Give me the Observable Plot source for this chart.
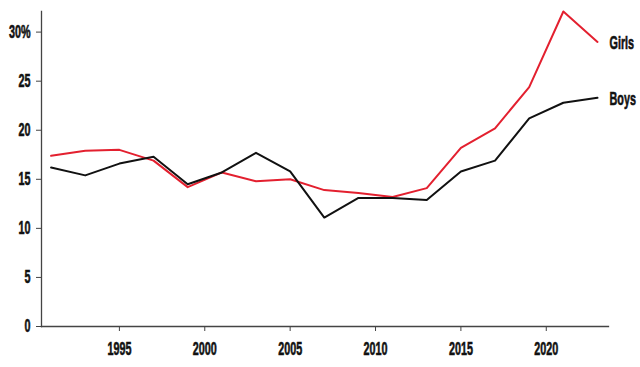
<!DOCTYPE html>
<html>
<head>
<meta charset="utf-8">
<script src="https://cdn.jsdelivr.net/npm/d3@7"></script>
<script src="https://cdn.jsdelivr.net/npm/@observablehq/plot@0.6"></script>
<style>
  html, body { margin: 0; padding: 0; background: #fff; }
</style>
</head>
<body>
<div id="chart"></div>
<script>
const years = [1991, 1993, 1995, 1997, 1999, 2001, 2003, 2005, 2007, 2009, 2011, 2013, 2015, 2017, 2019, 2021, 2023];
const girls = [17.4, 17.9, 18.0, 16.9, 14.2, 15.7, 14.8, 15.0, 13.9, 13.6, 13.2, 14.1, 18.2, 20.2, 24.4, 32.1, 29.0];
const boys  = [16.2, 15.4, 16.6, 17.3, 14.5, 15.7, 17.7, 15.8, 11.1, 13.1, 13.1, 12.9, 15.8, 16.9, 21.2, 22.8, 23.3];
const seriesNames = ["Girls", "Boys"];
const seriesColors = ["#e3202f", "#111111"];
const xTicks = [1995, 2000, 2005, 2010, 2015, 2020];
const yTicks = [0, 5, 10, 15, 20, 25, 30];

const rows = [];
years.forEach((yr, i) => {
  rows.push({year: yr, value: girls[i], series: "Girls"});
  rows.push({year: yr, value: boys[i], series: "Boys"});
});
const lastRows = seriesNames.map(s => rows.filter(r => r.series === s).at(-1));

const chart = Plot.plot({
  width: 640,
  height: 367,
  marginTop: 11,
  marginLeft: 41,
  marginRight: 32,
  marginBottom: 41,
  style: {fontFamily: "'Liberation Sans', Arial, sans-serif", fontSize: "18px", fontWeight: "bold", color: "#111", overflow: "visible"},
  x: {domain: [1991, 2023], insetLeft: 9.6, insetRight: 11, label: null},
  y: {domain: [0, 32.1], label: null},
  color: {domain: seriesNames, range: seriesColors},
  marks: [
    Plot.axisX({ticks: xTicks, tickFormat: d => String(d), tickSize: 5, tickPadding: 11, stroke: "#444", label: null, fontSize: 18}),
    Plot.axisY({ticks: yTicks, tickFormat: d => d === 30 ? "30%" : String(d), tickSize: 5, tickPadding: 6, stroke: "#444", label: null, fontSize: 18}),
    Plot.frame({anchor: "left", stroke: "#444", strokeWidth: 1.3}),
    Plot.frame({anchor: "bottom", stroke: "#444", strokeWidth: 1.3}),
    Plot.line(rows, {x: "year", y: "value", z: "series", stroke: "series", strokeWidth: 2}),
    Plot.text(lastRows, {x: "year", y: "value", text: "series", textAnchor: "start", dx: 12, dy: 1, fill: "#111", fontSize: 18})
  ]
});
// condense the type horizontally around each text's anchor point
const sx = 0.6;
chart.querySelectorAll("text").forEach(t => {
  t.setAttribute("font-size", "18");
  t.style.fontSize = "18px";
  t.style.fill = "#111";
  t.style.stroke = "#111";
  t.style.strokeWidth = "0.6px";
  t.style.paintOrder = "stroke";
  const x = +(t.getAttribute("x") || 0);
  const tr = t.getAttribute("transform") || "";
  t.setAttribute("transform", `${tr} translate(${x},0) scale(${sx},1) translate(${-x},0)`);
});
document.getElementById("chart").appendChild(chart);
</script>
</body>
</html>
